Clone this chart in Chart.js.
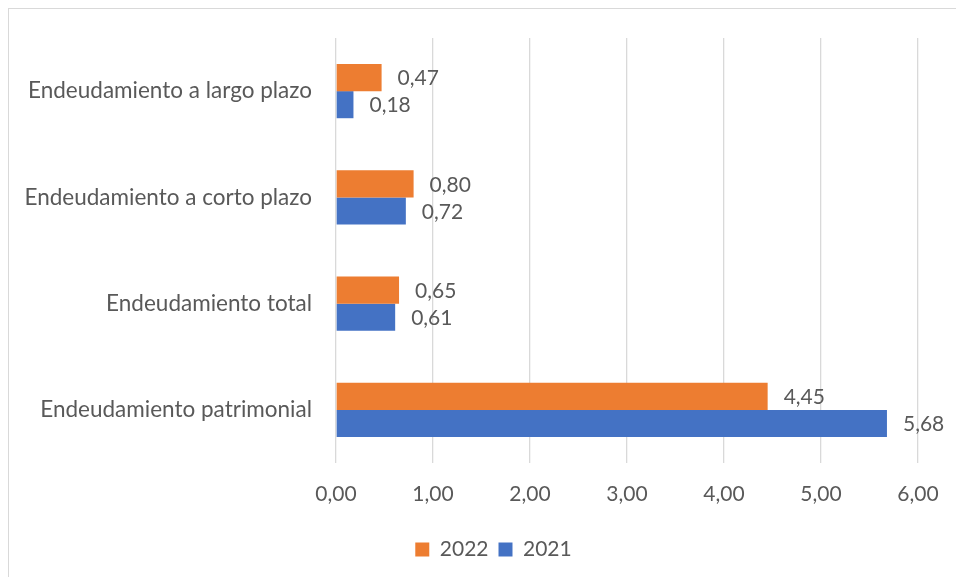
<!DOCTYPE html>
<html>
<head>
<meta charset="utf-8">
<script src="https://cdn.jsdelivr.net/npm/chart.js@4.4.1/dist/chart.umd.min.js"></script>
<style>
    html, body { margin: 0; padding: 0; background: #fff; overflow: hidden; }
    #frame {
        position: absolute; left: 8px; top: 8px;
        width: 960px; height: 580px;
        border: 1px solid #d9d9d9;
    }
    #wrap { position: absolute; left: 0; top: -9px; width: 954px; height: 577px; }
</style>
</head>
<body>
<div id="frame"><div id="wrap"><canvas id="chart"></canvas></div></div>
<script>
const categories = [
    'Endeudamiento a largo plazo',
    'Endeudamiento a corto plazo',
    'Endeudamiento total',
    'Endeudamiento patrimonial'
];
const values2022 = [0.47, 0.80, 0.65, 4.45];
const values2021 = [0.18, 0.72, 0.61, 5.68];
const xTicks = [0, 1, 2, 3, 4, 5, 6];

const FONT = 'Lato, sans-serif';
const TEXT = '#595959';
const fmt = v => v.toFixed(2).replace('.', ',');

// value labels at the end of each bar
const barLabels = {
    id: 'barLabels',
    afterDatasetsDraw(chart) {
        const ctx = chart.ctx;
        ctx.save();
        ctx.font = '21px ' + FONT;
        ctx.fillStyle = TEXT;
        ctx.textAlign = 'left';
        ctx.textBaseline = 'middle';
        chart.data.datasets.forEach((ds, i) => {
            chart.getDatasetMeta(i).data.forEach((bar, j) => {
                ctx.fillText(fmt(ds.data[j]), bar.x + 16, bar.y + 1);
            });
        });
        ctx.restore();
    }
};

// legend sits a bit right of the canvas centre, like the original
const legendShift = {
    id: 'legendShift',
    afterLayout(chart) {
        chart.legend.left += 30;
        chart.legend.right += 30;
    }
};

new Chart(document.getElementById('chart'), {
    type: 'bar',
    data: {
        labels: categories,
        datasets: [
            { label: '2022', data: values2022, backgroundColor: '#ED7D31' },
            { label: '2021', data: values2021, backgroundColor: '#4472C4' }
        ]
    },
    options: {
        indexAxis: 'y',
        responsive: true,
        maintainAspectRatio: false,
        animation: false,
        categoryPercentage: 0.51,
        barPercentage: 1,
        layout: { padding: { top: 38, right: 45, bottom: 7, left: 0 } },
        scales: {
            x: {
                min: 0,
                max: 6,
                afterBuildTicks: scale => { scale.ticks = xTicks.map(v => ({ value: v })); },
                afterFit: scale => { scale.height = 66; },
                grid: { color: '#d9d9d9', lineWidth: 1.3, drawTicks: false },
                border: { display: false },
                ticks: {
                    padding: 19,
                    color: TEXT,
                    font: { family: FONT, size: 21 },
                    callback: v => fmt(v)
                }
            },
            y: {
                afterFit: scale => { scale.width = 327; },
                grid: { display: false, drawTicks: false },
                border: { display: false },
                ticks: {
                    padding: 24,
                    color: TEXT,
                    font: { family: FONT, size: 22.5 }
                }
            }
        },
        plugins: {
            legend: {
                position: 'bottom',
                labels: {
                    color: TEXT,
                    font: { family: FONT, size: 21 },
                    boxWidth: 14,
                    boxHeight: 14,
                    padding: 10
                }
            },
            tooltip: { enabled: false }
        }
    },
    plugins: [barLabels, legendShift]
});
</script>
</body>
</html>
